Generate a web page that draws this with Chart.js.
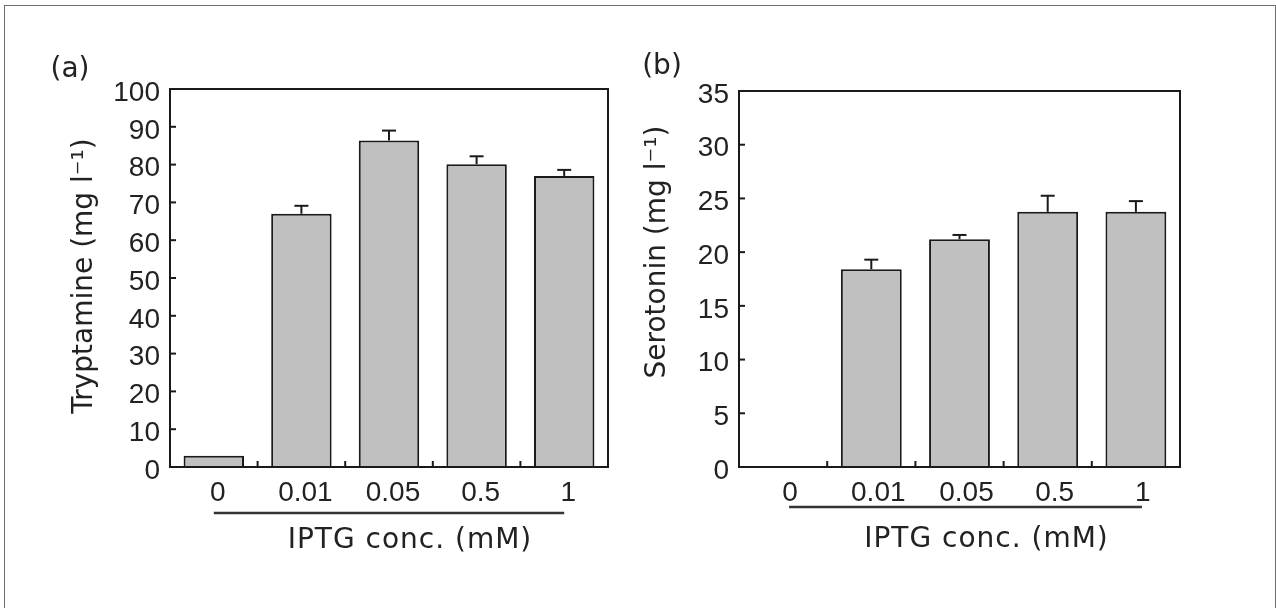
<!DOCTYPE html>
<html>
<head>
<meta charset="utf-8">
<script src="https://cdn.jsdelivr.net/npm/chart.js@4.4.1/dist/chart.umd.min.js"></script>
<style>
  html, body { margin: 0; padding: 0; background: #fff; }
  body { width: 1276px; height: 608px; position: relative; overflow: hidden; }
  #frame { position: absolute; left: 4px; top: 5px; width: 1272px; height: 640px; box-sizing: border-box; border: 1.5px solid #6e6e6e; }
  #chartA { position: absolute; left: 0; top: 0; }
  #chartB { position: absolute; left: 640px; top: 0; }
</style>
</head>
<body>
<div id="frame"></div>
<canvas id="chartA" width="640" height="608"></canvas>
<canvas id="chartB" width="636" height="608"></canvas>
<script>
// IPTG concentrations (mM)
const concLabels = ["0", "0.01", "0.05", "0.5", "1"];

// (a) tryptamine, mg/l, mean and upper error
const tryptamine = [3.0, 67.0, 86.4, 80.1, 77.0];
const tryptamineErr = [0, 2.1, 2.6, 2.1, 1.6];
const tryptamineTicks = [0, 10, 20, 30, 40, 50, 60, 70, 80, 90, 100];

// (b) serotonin, mg/l
const serotonin = [0, 18.4, 21.2, 23.75, 23.75];
const serotoninErr = [0, 0.9, 0.4, 1.5, 1.0];
const serotoninTicks = [0, 5, 10, 15, 20, 25, 30, 35];

const ink = '#1a1a1a';
const textInk = '#222';

// frame, inward ticks, error bars and the text around each panel
const figurePlugin = {
    id: 'figure',
    afterDatasetsDraw(chart, args, opts) {
        const ctx = chart.ctx;
        const a = chart.chartArea;
        const x = chart.scales.x;
        const y = chart.scales.y;
        const values = chart.data.datasets[0].data;

        ctx.save();
        ctx.strokeStyle = ink;
        ctx.lineWidth = 2;

        const line = function(x1, y1, x2, y2) {
            ctx.beginPath();
            ctx.moveTo(x1, y1);
            ctx.lineTo(x2, y2);
            ctx.stroke();
        };

        opts.errors.forEach(function(e, i) {
            if (!e) return;
            const px = x.getPixelForValue(i);
            const top = y.getPixelForValue(values[i]);
            const end = y.getPixelForValue(values[i] + e);
            line(px, top, px, end);
            line(px - 7, end, px + 7, end);
        });

        ctx.strokeRect(a.left, a.top, a.right - a.left, a.bottom - a.top);

        y.ticks.forEach(function(t) {
            const py = y.getPixelForValue(t.value);
            line(a.left, py, a.left + 6, py);
        });
        for (let i = 0; i < values.length - 1; i++) {
            const bx = (x.getPixelForValue(i) + x.getPixelForValue(i + 1)) / 2;
            line(bx, a.bottom, bx, a.bottom - 6);
        }

        // grouping line under the concentrations
        const lx1 = x.getPixelForValue(0) + opts.lineShift;
        const lx2 = x.getPixelForValue(values.length - 1) + opts.lineShift;
        const ly = a.bottom + opts.lineDrop;
        ctx.strokeStyle = '#333';
        ctx.lineWidth = 2.5;
        line(lx1, ly, lx2, ly);

        ctx.fillStyle = textInk;
        ctx.font = '28px "DejaVu Sans"';
        ctx.textBaseline = 'alphabetic';
        ctx.textAlign = 'center';
        ctx.fillText(opts.letter, opts.letterX, opts.letterY);

        if ('letterSpacing' in ctx) ctx.letterSpacing = '1px';
        ctx.fillText('IPTG conc. (mM)', (lx1 + lx2) / 2 + 21, a.bottom + opts.titleDrop);
        if ('letterSpacing' in ctx) ctx.letterSpacing = '0px';

        ctx.translate(opts.yTitleX, opts.yTitleY);
        ctx.rotate(-Math.PI / 2);
        ctx.fillText(opts.yTitle, 0, 0);
        ctx.restore();
    }
};

function makePanel(id, values, errors, yTicks, p) {
    return new Chart(document.getElementById(id), {
        type: 'bar',
        data: {
            labels: concLabels,
            datasets: [{
                data: values,
                backgroundColor: '#c0c0c0',
                borderColor: ink,
                borderWidth: 2,
                borderSkipped: 'start',
                barPercentage: 0.69,
                categoryPercentage: 1,
            }],
        },
        options: {
            responsive: false,
            animation: false,
            layout: {
                padding: { left: 0, right: p.padRight, top: p.padTop, bottom: 0 },
            },
            scales: {
                x: {
                    grid: { display: false, drawTicks: false },
                    border: { display: false },
                    ticks: {
                        color: textInk,
                        font: { family: 'Liberation Sans', size: 28 },
                        padding: 9,
                        labelOffset: p.xLabelShift,
                        maxRotation: 0,
                    },
                    afterFit: function(scale) { scale.height = 608 - 467; },
                },
                y: {
                    min: 0,
                    max: yTicks[yTicks.length - 1],
                    afterBuildTicks: function(scale) {
                        scale.ticks = yTicks.map(function(v) { return { value: v }; });
                    },
                    grid: { display: false, drawTicks: false },
                    border: { display: false },
                    ticks: {
                        color: textInk,
                        font: { family: 'Liberation Sans', size: 28 },
                        padding: 10,
                        labelOffset: 4,
                    },
                    afterFit: function(scale) { scale.width = p.yWidth; },
                },
            },
            plugins: {
                legend: { display: false },
                tooltip: { enabled: false },
                figure: Object.assign({ errors: errors }, p.text),
            },
        },
        plugins: [figurePlugin],
    });
}

makePanel('chartA', tryptamine, tryptamineErr, tryptamineTicks, {
    yWidth: 170, padRight: 32, padTop: 89, xLabelShift: 4,
    text: {
        letter: '(a)', letterX: 70, letterY: 77,
        yTitle: 'Tryptamine (mg l\u207B\u00B9)', yTitleX: 92, yTitleY: 276,
        lineShift: 0, lineDrop: 46, titleDrop: 81,
    },
});

makePanel('chartB', serotonin, serotoninErr, serotoninTicks, {
    yWidth: 99, padRight: 96, padTop: 91, xLabelShift: 7,
    text: {
        letter: '(b)', letterX: 22, letterY: 74,
        yTitle: 'Serotonin (mg l\u207B\u00B9)', yTitleX: 25, yTitleY: 252,
        lineShift: 6, lineDrop: 40, titleDrop: 80,
    },
});
</script>
</body>
</html>
